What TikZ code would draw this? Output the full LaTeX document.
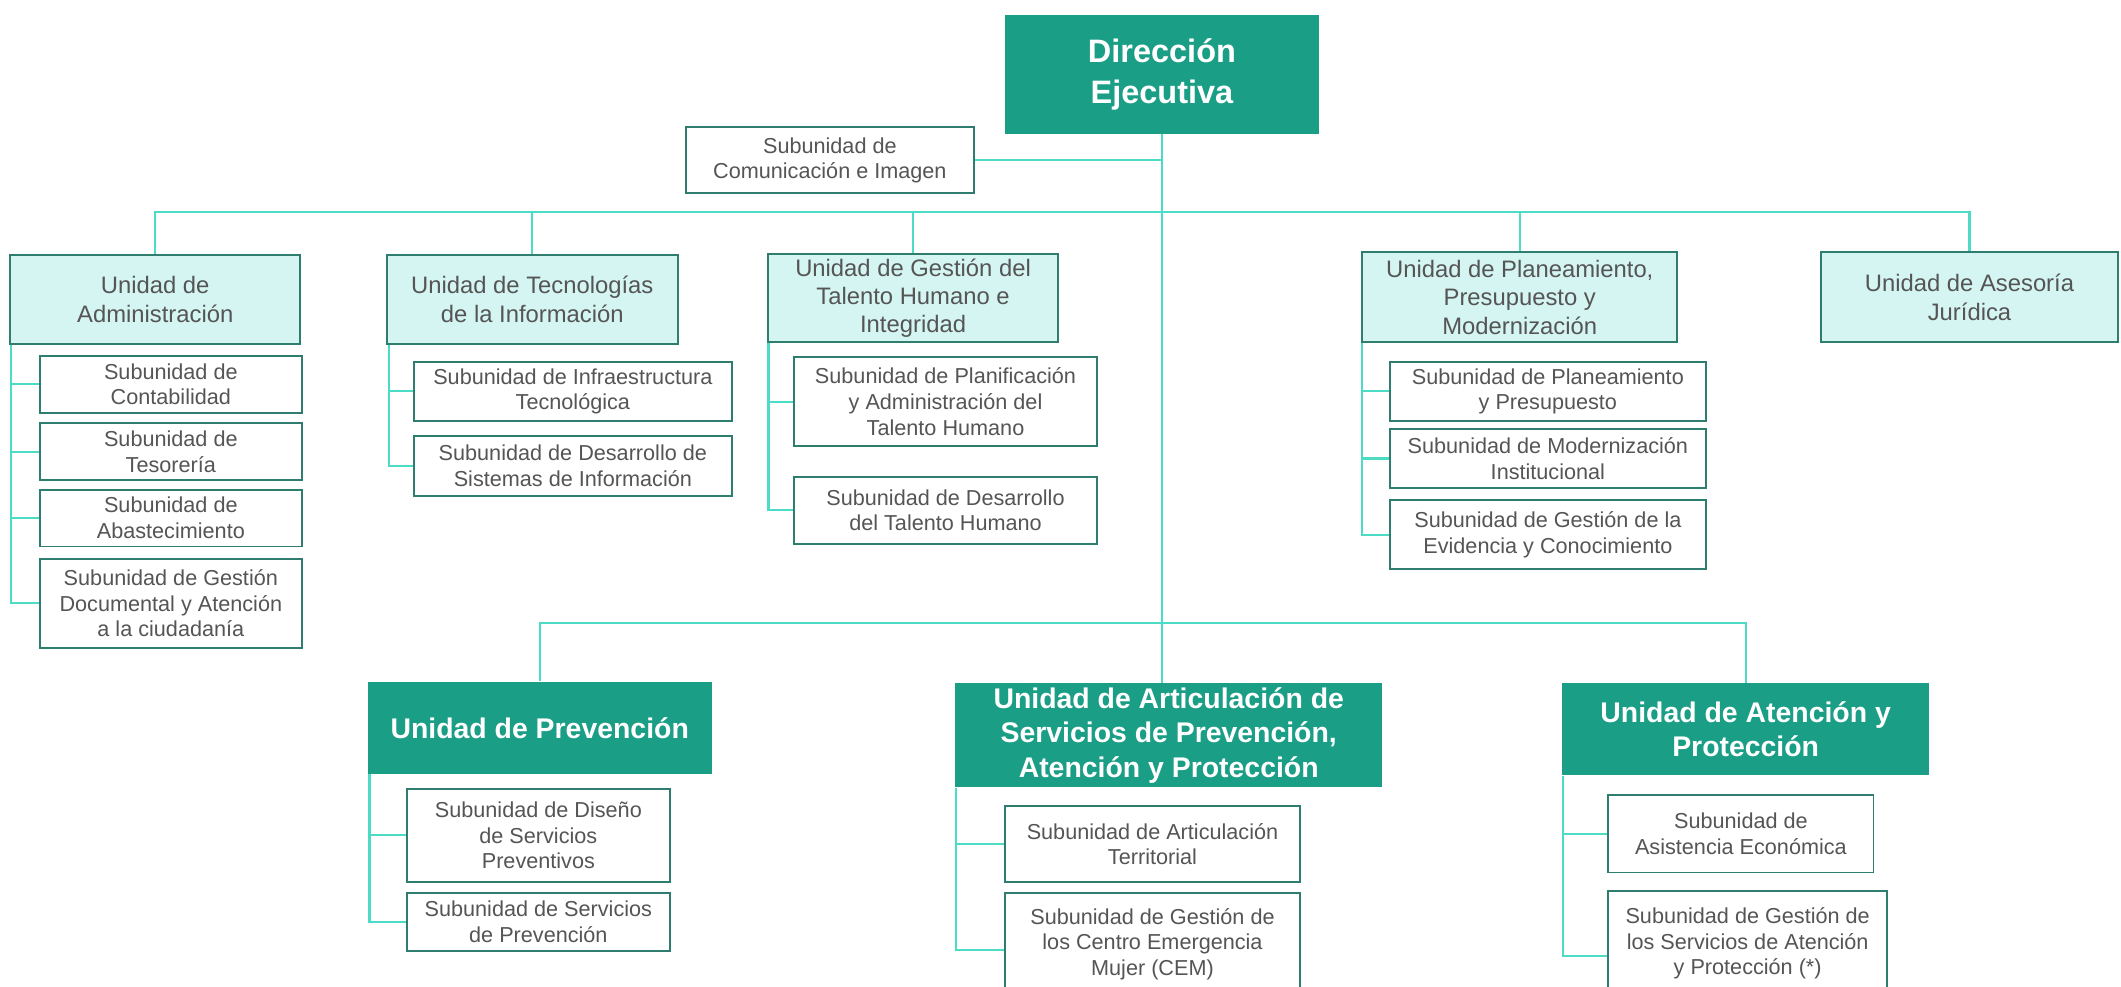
\documentclass[tikz,border=0pt]{standalone}
\usepackage{fontspec}
\setmainfont{Liberation Sans}
\usepackage{tikz}

\definecolor{dgreen}{HTML}{1A9E86}
\definecolor{lcyan}{HTML}{D4F5F1}
\definecolor{bord}{HTML}{2F7D6F}
\definecolor{wire}{HTML}{4CDCC6}
\definecolor{txt}{HTML}{555555}

\begin{document}
\begin{tikzpicture}[x=0.5pt,y=-0.5pt]
            \tikzstyle{headbox}=[rectangle,fill=dgreen,text=white,align=center,inner sep=0pt]
            \tikzstyle{unitbox}=[rectangle,draw=bord,fill=lcyan,text=txt,line width=0.7pt,align=center,inner sep=0pt,font=\fontsize{8.8}{10.5}\selectfont]
            \tikzstyle{subbox}=[rectangle,draw=bord,fill=white,text=txt,line width=0.7pt,align=center,inner sep=0pt,font=\fontsize{8}{9.5}\selectfont]
            \tikzstyle{link}=[draw=wire,line width=0.8pt]

            \useasboundingbox (0,0) rectangle (1568,729);
            \clip (0,0) rectangle (1568,729);

            % top
            \node[headbox,minimum width=116pt,minimum height=44pt,font=\bfseries\fontsize{12}{15.4}\selectfont] (D-dir) at (859,55) {Dirección\\Ejecutiva};
            \node[subbox,minimum width=106.5pt,minimum height=24.5pt] (S-com) at (613.5,118.5) {Subunidad de\\Comunicación e Imagen};

            % units
            \node[unitbox,minimum width=107.25pt,minimum height=32.75pt] (U-adm) at (114.75,221.25) {Unidad de\\Administración};
            \node[unitbox,minimum width=107.5pt,minimum height=32.75pt] (U-ti) at (393.5,221.25) {Unidad de Tecnologías\\de la Información};
            \node[unitbox,minimum width=107pt,minimum height=32.5pt] (U-gth) at (675,220.5) {Unidad de Gestión del\\Talento Humano e\\Integridad};
            \node[unitbox,minimum width=116.5pt,minimum height=33.25pt] (U-ppm) at (1123.5,219.75) {Unidad de Planeamiento,\\Presupuesto y\\Modernización};
            \node[unitbox,minimum width=110pt,minimum height=33.25pt] (U-asj) at (1456,219.75) {Unidad de Asesoría\\Jurídica};

            \node[subbox,minimum width=96.7pt,minimum height=21pt] (S-cont) at (126.3,284) {Subunidad de\\Contabilidad};
            \node[subbox,minimum width=96.7pt,minimum height=21pt] (S-teso) at (126.3,334) {Subunidad de\\Tesorería};
            \node[subbox,minimum width=96.7pt,minimum height=21pt] (S-abas) at (126.3,383) {Subunidad de\\Abastecimiento};
            \node[subbox,minimum width=96.7pt,minimum height=33pt] (S-gdoc) at (126.3,446) {Subunidad de Gestión\\Documental y Atención\\a la ciudadanía};

            \node[subbox,minimum width=117.5pt,minimum height=21.7pt] (S-inf) at (423.5,289.3) {Subunidad de Infraestructura\\Tecnológica};
            \node[subbox,minimum width=117.5pt,minimum height=22.5pt] (S-dsi) at (423.5,344.5) {Subunidad de Desarrollo de\\Sistemas de Información};

            \node[subbox,minimum width=112pt,minimum height=33pt] (S-pla) at (699,297) {Subunidad de Planificación\\y Administración del\\Talento Humano};
            \node[subbox,minimum width=112pt,minimum height=24.7pt] (S-dth) at (699,377.3) {Subunidad de Desarrollo\\del Talento Humano};

            \node[subbox,minimum width=116.7pt,minimum height=21.7pt] (S-ppr) at (1144.3,289.3) {Subunidad de Planeamiento\\y Presupuesto};
            \node[subbox,minimum width=116.7pt,minimum height=22pt] (S-mod) at (1144.3,339) {Subunidad de Modernización\\Institucional};
            \node[subbox,minimum width=116.7pt,minimum height=25.6pt] (S-evi) at (1144.3,395.2) {Subunidad de Gestión de la\\Evidencia y Conocimiento};

            % lower units
            \node[headbox,minimum width=127pt,minimum height=34pt,font=\bfseries\fontsize{10.5}{12.8}\selectfont] (U-pre) at (399,538) {Unidad de Prevención};
            \node[headbox,minimum width=158pt,minimum height=38.5pt,font=\bfseries\fontsize{10.5}{12.8}\selectfont] (U-art) at (864,543.5) {Unidad de Articulación de\\Servicios de Prevención,\\Atención y Protección};
            \node[headbox,minimum width=135.5pt,minimum height=34pt,font=\bfseries\fontsize{10.5}{12.8}\selectfont] (U-atp) at (1290.5,539) {Unidad de Atención y\\Protección};

            \node[subbox,minimum width=97pt,minimum height=34.5pt] (S-dis) at (398,617.5) {Subunidad de Diseño\\de Servicios\\Preventivos};
            \node[subbox,minimum width=97pt,minimum height=21.5pt] (S-spr) at (398,681.5) {Subunidad de Servicios\\de Prevención};

            \node[subbox,minimum width=109pt,minimum height=28pt] (S-ter) at (852,624) {Subunidad de Articulación\\Territorial};
            \node[subbox,minimum width=109pt,minimum height=38pt] (S-cem) at (852,698) {Subunidad de Gestión de\\los Centro Emergencia\\Mujer (CEM)};

            \node[subbox,minimum width=98pt,minimum height=28.5pt] (S-ase) at (1287,616.5) {Subunidad de\\Asistencia Económica};
            \node[subbox,minimum width=103pt,minimum height=38.5pt] (S-gsa) at (1292,697.5) {Subunidad de Gestión de\\los Servicios de Atención\\y Protección (*)};

            % connectors
            \coordinate (topbus) at (0,157);
            \coordinate (botbus) at (0,460.5);
            \draw[link] (D-dir.south) -- (D-dir.south |- U-art.north);
            \draw[link] (S-com.east) -- (S-com.east -| D-dir.south);
            \draw[link] (U-adm.north) -- (U-adm.north |- topbus) -- (U-asj.north |- topbus) -- (U-asj.north);
            \draw[link] (U-ti.north) -- (U-ti.north |- topbus);
            \draw[link] (U-gth.north) -- (U-gth.north |- topbus);
            \draw[link] (U-ppm.north) -- (U-ppm.north |- topbus);
            \draw[link] (U-pre.north) -- (U-pre.north |- botbus) -- (U-atp.north |- botbus) -- (U-atp.north);

            \coordinate (adm-sp) at ([xshift=0.6pt]U-adm.south west);
            \draw[link] (adm-sp) |- (S-gdoc.west);
            \draw[link] (S-cont.west) -- (S-cont.west -| adm-sp);
            \draw[link] (S-teso.west) -- (S-teso.west -| adm-sp);
            \draw[link] (S-abas.west) -- (S-abas.west -| adm-sp);

            \coordinate (ti-sp) at ([xshift=1.2pt]U-ti.south west);
            \draw[link] (ti-sp) |- (S-dsi.west);
            \draw[link] (S-inf.west) -- (S-inf.west -| ti-sp);

            \coordinate (gth-sp) at ([xshift=0.4pt]U-gth.south west);
            \draw[link] (gth-sp) |- (S-dth.west);
            \draw[link] (S-pla.west) -- (S-pla.west -| gth-sp);

            \coordinate (ppm-sp) at ([xshift=0.4pt]U-ppm.south west);
            \draw[link] (ppm-sp) |- (S-evi.west);
            \draw[link] (S-ppr.west) -- (S-ppr.west -| ppm-sp);
            \draw[link] (S-mod.west) -- (S-mod.west -| ppm-sp);

            \coordinate (pre-sp) at ([xshift=0.8pt]U-pre.south west);
            \draw[link] (pre-sp) |- (S-spr.west);
            \draw[link] (S-dis.west) -- (S-dis.west -| pre-sp);

            \coordinate (art-sp) at ([xshift=0.5pt]U-art.south west);
            \draw[link] (art-sp) |- ([yshift=-2pt]S-cem.west);
            \draw[link] (S-ter.west) -- (S-ter.west -| art-sp);

            \coordinate (atp-sp) at ([xshift=0.4pt]U-atp.south west);
            \draw[link] (atp-sp) |- ([yshift=-4.5pt]S-gsa.west);
            \draw[link] (S-ase.west) -- (S-ase.west -| atp-sp);
        \end{tikzpicture}
\end{document}
